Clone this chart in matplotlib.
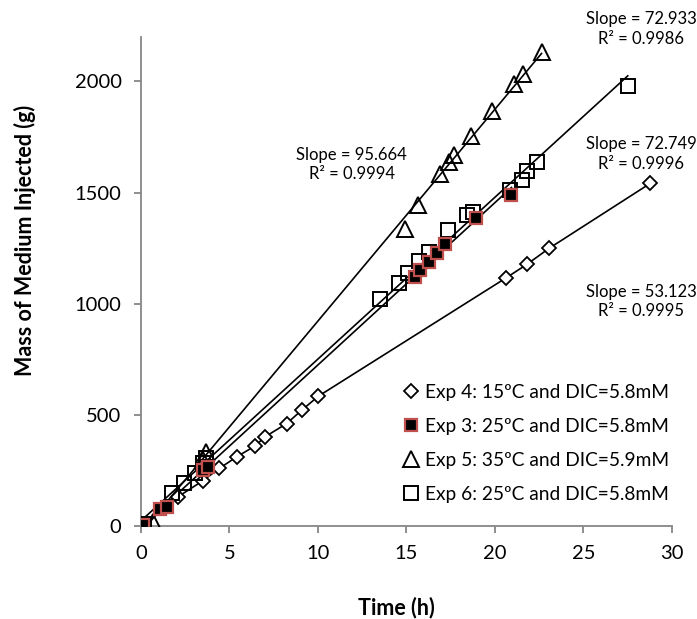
import matplotlib
matplotlib.use('Agg')
import matplotlib.pyplot as plt
import numpy as np

plt.rcParams['font.family'] = ['Lato', 'DejaVu Sans']

# Exp 4: 15ºC and DIC=5.8mM
t_exp4 = [0.0, 2.1, 3.48, 4.42, 5.4, 6.44, 7.0, 8.23, 9.08, 10.02, 20.6, 21.8, 23.05, 28.76]
m_exp4 = [0, 132, 203, 259, 311, 360, 401, 461, 521, 584, 1115, 1177, 1249, 1541]

# Exp 3: 25ºC and DIC=5.8mM
t_exp3 = [0.0, 0.1, 1.07, 1.45, 3.5, 3.8, 15.5, 15.76, 16.25, 16.75, 17.2, 18.93, 20.93]
m_exp3 = [0, 5, 75, 87, 252, 267, 1122, 1150, 1186, 1227, 1267, 1388, 1490]

# Exp 5: 35ºC and DIC=5.9mM
t_exp5 = [0.0, 0.7, 3.52, 3.7, 14.9, 15.66, 16.9, 17.4, 17.7, 18.67, 19.85, 21.1, 21.6, 22.63]
m_exp5 = [0, 19, 297, 334, 1338, 1443, 1582, 1637, 1667, 1754, 1867, 1989, 2034, 2132]

# Exp 6: 25ºC and DIC=5.8mM
t_exp6 = [0.0, 0.15, 1.73, 2.45, 3.05, 3.52, 3.7, 13.5, 14.6, 15.1, 15.7, 16.25, 17.36,
          18.4, 18.77, 20.85, 21.55, 21.8, 22.35, 27.5]
m_exp6 = [0, 8, 150, 192, 237, 282, 304, 1020, 1092, 1140, 1192, 1233, 1330,
          1398, 1413, 1512, 1558, 1598, 1638, 1978]

labels = ['Exp 4: 15ºC and DIC=5.8mM', 'Exp 3: 25ºC and DIC=5.8mM',
          'Exp 5: 35ºC and DIC=5.9mM', 'Exp 6: 25ºC and DIC=5.8mM']
slope_text = ['Slope = 53.123\nR² = 0.9995', 'Slope = 72.749\nR² = 0.9996',
              'Slope = 95.664\nR² = 0.9994', 'Slope = 72.933\nR² = 0.9986']
# where each trendline label sits (data coords)
label_pos = [(28.25, 1011), (28.25, 1674), (11.9, 1625), (28.25, 2236)]

AXIS_GRAY = '#868686'

fig = plt.figure(figsize=(6.97, 6.19), dpi=100)
ax = fig.add_axes([0.2023, 0.1502, 0.9641 - 0.2023, 0.9402 - 0.1502])

# trendlines
for t, m in [(t_exp3, m_exp3), (t_exp5, m_exp5), (t_exp6, m_exp6)]:
    k, b = np.polyfit(t, m, 1)
    xs = np.array([0, max(t)])
    ax.plot(xs, k * xs + b, color='black', lw=1.2, zorder=2)
ax.plot(t_exp4, m_exp4, color='black', lw=1.2, zorder=2)

ax.plot(t_exp4, m_exp4, ls='none', marker='D', ms=7, mfc='white', mec='black', mew=1.3,
        label=labels[0], zorder=3)
ax.plot(t_exp3, m_exp3, ls='none', marker='s', ms=8.5, mfc='black', mec='#C0504D', mew=1.6,
        label=labels[1], zorder=4)
ax.plot(t_exp5, m_exp5, ls='none', marker='^', ms=11, mfc='none', mec='black', mew=1.4,
        label=labels[2], zorder=3)
ax.plot(t_exp6, m_exp6, ls='none', marker='s', ms=10, mfc='none', mec='black', mew=1.4,
        label=labels[3], zorder=3)

for txt, (x, y) in zip(slope_text, label_pos):
    ax.text(x, y, txt, ha='center', va='center', fontsize=12, linespacing=1.25,
            clip_on=False)

ax.set_xlim(0, 30)
ax.set_ylim(0, 2200)
ax.set_xticks(np.arange(0, 31, 5))
ax.set_yticks(np.arange(0, 2001, 500))
for side in ['top', 'right']:
    ax.spines[side].set_visible(False)
for side in ['left', 'bottom']:
    ax.spines[side].set_color(AXIS_GRAY)
    ax.spines[side].set_linewidth(1.3)
ax.tick_params(colors=AXIS_GRAY, labelcolor='black', labelsize=14.5, width=1.3, length=5,
               direction='out', pad=9)

leg = ax.legend(loc='upper left', bbox_to_anchor=(0.48, 0.307), frameon=False, fontsize=13.8,
                handlelength=0.8, handletextpad=0.3, labelspacing=0.89, borderaxespad=0)

fig.text(396 / 697, 1 - 608 / 619, 'Time (h)', ha='center', va='center', fontsize=15.5,
         fontweight='bold')
fig.text(25 / 697, 1 - 240 / 619, 'Mass of Medium Injected (g)', ha='center', va='center',
         rotation=90, fontsize=15.5, fontweight='bold')

fig.savefig('out.png', dpi=100)
